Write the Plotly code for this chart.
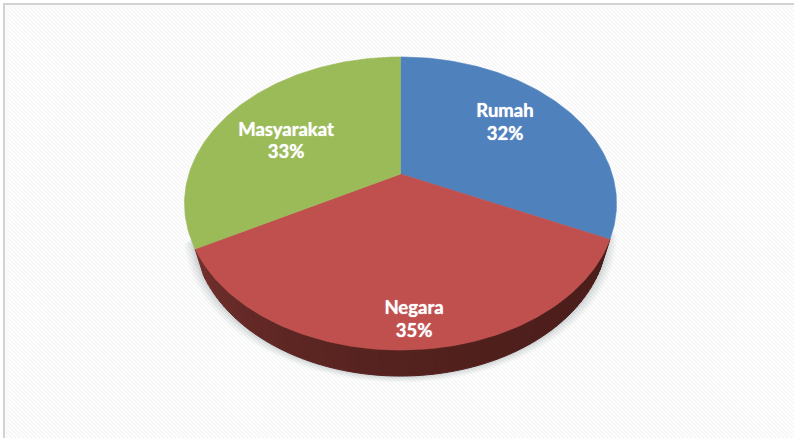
import numpy as np
import plotly.graph_objects as go

# Pie contents
categories = ["Rumah", "Negara", "Masyarakat"]
values = [32, 35, 33]
slice_colors = ["#4f81bd", "#c0504d", "#9bbb59"]

# Tilted-disc projection (page pixels)
HUB_X, HUB_Y = 400.5, 174.0
SCALE_X, SCALE_Y = 211.6, 140.6
TILT = 0.2014
RIM_DROP = 26.0
RIM_INSET = 0.96


def project(turn, drop=0.0, inset=1.0):
    """Map a clockwise angle from twelve o'clock onto the tilted disc."""
    u, v = np.sin(turn), np.cos(turn)
    w = 1 + TILT * v
    return HUB_X + inset * SCALE_X * u / w, HUB_Y - SCALE_Y * v / w + drop


shares = np.array(values, dtype=float) / sum(values)
edges = np.concatenate([[0], np.cumsum(shares)]) * 2 * np.pi

fig = go.Figure()

# Diagonal weave of the backdrop
hatch_x, hatch_y = [], []
for start in range(-440, 800, 4):
    hatch_x += [start, start + 440, None]
    hatch_y += [0, 440, None]
fig.add_trace(go.Scatter(x=hatch_x, y=hatch_y, mode="lines",
                         line=dict(color="rgba(255,255,255,0.95)", width=1.6),
                         hoverinfo="skip"))

# Soft drop shadow below the disc
for grow, alpha in [(9, 0.05), (7, 0.06), (5, 0.07), (3, 0.09), (1.5, 0.11)]:
    t = np.linspace(edges[1] - 0.25, edges[2] + 0.25, 160)
    sx, sy = project(t, RIM_DROP + grow * 0.7, RIM_INSET + grow / 216)
    fig.add_trace(go.Scatter(x=sx, y=sy, mode="lines", fill="toself",
                             line=dict(width=0),
                             fillcolor=f"rgba(120,130,135,{alpha})",
                             hoverinfo="skip"))

# Rim of the disc, shaded from lighter on the left to darker on the right
rim_steps = 72
rim_turns = np.linspace(edges[1], edges[2], rim_steps + 1)
rim_light = np.array([0x72, 0x30, 0x2d])
rim_dark = np.array([0x4c, 0x1e, 0x1b])
for i in range(rim_steps):
    t = np.linspace(rim_turns[i], rim_turns[i + 1], 3)
    tx, ty = project(t)
    bx, by = project(t[::-1], RIM_DROP, RIM_INSET)
    mix = ((i + 0.5) / rim_steps) ** 2.2
    r, g, b = (rim_dark + (rim_light - rim_dark) * mix).astype(int)
    col = f"rgb({r},{g},{b})"
    fig.add_trace(go.Scatter(x=np.r_[tx, bx, tx[0]], y=np.r_[ty, by, ty[0]],
                             mode="lines", fill="toself", fillcolor=col,
                             line=dict(color=col, width=1), hoverinfo="skip"))

# Top face, one wedge per category
for i, (name, color) in enumerate(zip(categories, slice_colors)):
    t = np.linspace(edges[i], edges[i + 1], 120)
    ax, ay = project(t)
    fig.add_trace(go.Scatter(x=np.r_[HUB_X, ax, HUB_X], y=np.r_[HUB_Y, ay, HUB_Y],
                             mode="lines", fill="toself", fillcolor=color,
                             line=dict(color=color, width=0.6), name=name,
                             hoverinfo="skip"))

# Category name and percentage inside each wedge, on separate rows
label_x = [505, 414, 286]
name_y = [112.5, 309.5, 131.5]
share_y = [135.5, 332.5, 153.5]
label_font = dict(family="Lato", size=18.5, color="white", weight="bold",
                  shadow="0 0 1px rgba(255,255,255,0.9)")
fig.add_trace(go.Scatter(x=label_x, y=name_y, mode="text", text=categories,
                         textposition="middle center", textfont=label_font,
                         hoverinfo="skip"))
fig.add_trace(go.Scatter(x=label_x, y=share_y, mode="text",
                         text=[f"{v}%" for v in values],
                         textposition="middle center", textfont=label_font,
                         hoverinfo="skip"))

# Frame shows along the left and top sides only
frame = dict(color="#d2d2d2", width=2)
fig.update_layout(
    width=794, height=438, margin=dict(l=0, r=0, t=0, b=0),
    paper_bgcolor="white", plot_bgcolor="#f4f4f4", showlegend=False,
    xaxis=dict(range=[0, 794], visible=False, fixedrange=True),
    yaxis=dict(range=[438, 0], visible=False, fixedrange=True),
    shapes=[
        dict(type="line", xref="x", yref="y", x0=4, y0=3, x1=4, y1=438,
             line=frame, layer="above"),
        dict(type="line", xref="x", yref="y", x0=3, y0=4, x1=794, y1=4,
             line=frame, layer="above"),
        dict(type="rect", xref="x", yref="y", x0=0, y0=0, x1=3, y1=438,
             fillcolor="white", line=dict(width=0), layer="above"),
        dict(type="rect", xref="x", yref="y", x0=0, y0=0, x1=794, y1=3,
             fillcolor="white", line=dict(width=0), layer="above"),
    ],
)
fig.write_html("out.html", config=dict(displayModeBar=False))
